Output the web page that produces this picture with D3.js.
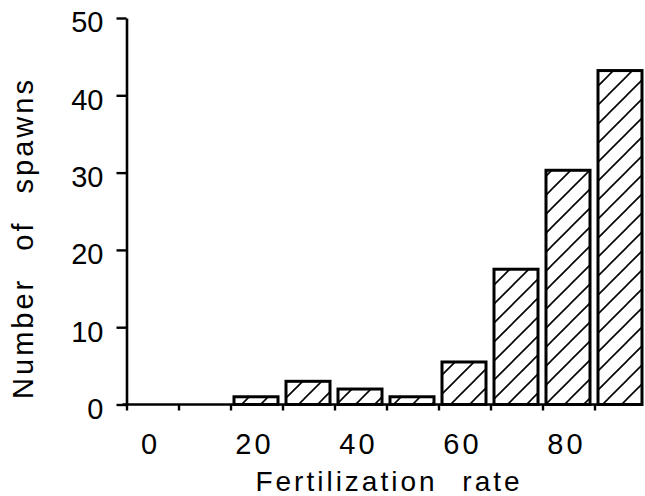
<!DOCTYPE html>
<html>
<head>
<meta charset="utf-8">
<script src="https://cdn.jsdelivr.net/npm/d3@7"></script>
<style>
  html, body { margin: 0; padding: 0; background: #fff; }
  svg { display: block; }
  text { font-family: "Liberation Sans", Arial, Helvetica, sans-serif; fill: #000; }
</style>
</head>
<body>
<svg id="chart" width="645" height="496"></svg>
<script>
// ---- data ----
const binStarts = [0, 10, 20, 30, 40, 50, 60, 70, 80, 90];
const spawnCounts = [0, 0, 1, 3, 2, 1, 5.5, 17.5, 30.3, 43.2];
const xTickLabels = [0, 20, 40, 60, 80];
const yTicks = [0, 10, 20, 30, 40, 50];
const xTitle = "Fertilization rate";
const yTitle = "Number of spawns";

// ---- layout ----
const x0 = 126.5, x1 = 646.5;   // 0 -> 100
const yBottom = 404.5, yTop = 18;

const svg = d3.select("#chart");

const x = d3.scaleLinear().domain([0, 100]).range([x0, x1]);
const y = d3.scaleLinear().domain([0, 50]).range([yBottom, yTop]);

// hatch pattern
const defs = svg.append("defs");
const pat = defs.append("pattern")
  .attr("id", "hatch")
  .attr("patternUnits", "userSpaceOnUse")
  .attr("width", 19).attr("height", 19);
pat.append("rect").attr("width", 19).attr("height", 19).attr("fill", "#fff");
pat.append("path")
  .attr("d", "M-2,2 L2,-2 M0,19 L19,0 M17,21 L21,17")
  .attr("stroke", "#000").attr("stroke-width", 1.6);

// bars
const binW = x(10) - x(0);
const gap = 8;
svg.append("g").selectAll("rect")
  .data(binStarts.map((b, i) => ({ b, v: spawnCounts[i] })).filter(d => d.v > 0))
  .join("rect")
  .attr("x", d => x(d.b) + gap / 2 - 0.5)
  .attr("width", binW - gap)
  .attr("y", d => y(d.v))
  .attr("height", d => y(0) - y(d.v))
  .attr("fill", "url(#hatch)")
  .attr("stroke", "#000")
  .attr("stroke-width", 3);

// y axis
const yAxis = svg.append("g")
  .attr("transform", `translate(${x0},0)`)
  .call(d3.axisLeft(y).tickValues(yTicks).tickSize(10).tickSizeOuter(0).tickPadding(13));
yAxis.select(".domain").attr("stroke", "#000").attr("stroke-width", 2.6);
yAxis.selectAll(".tick line").attr("stroke", "#000").attr("stroke-width", 2.4);
yAxis.selectAll(".tick text")
  .attr("font-size", 29)
  .attr("dy", "0.48em")
  .style("font-family", '"Liberation Sans", Arial, sans-serif');

// x axis (ticks at bin edges)
const xAxis = svg.append("g")
  .attr("transform", `translate(0,${yBottom})`)
  .call(d3.axisBottom(x).tickValues(binStarts).tickSize(6).tickSizeOuter(0).tickFormat(""));
xAxis.select(".domain").remove();
xAxis.selectAll(".tick line").attr("stroke", "#000").attr("stroke-width", 2.4);
xAxis.append("line")
  .attr("x1", x0 - 4).attr("x2", x(100) - 5)
  .attr("y1", 0).attr("y2", 0)
  .attr("stroke", "#000").attr("stroke-width", 2.6);

// x tick labels at bin centers
svg.append("g").selectAll("text")
  .data(xTickLabels)
  .join("text")
  .attr("x", d => x(d + 5) - 2)
  .attr("y", 454)
  .attr("text-anchor", "middle")
  .attr("font-size", 29)
  .attr("letter-spacing", 3)
  .text(d => d);

// titles
svg.append("text")
  .attr("x", 389)
  .attr("y", 491)
  .attr("text-anchor", "middle")
  .attr("font-size", 28)
  .attr("letter-spacing", 3)
  .attr("word-spacing", 14)
  .text(xTitle);

svg.append("text")
  .attr("transform", `translate(33,238) rotate(-90)`)
  .attr("text-anchor", "middle")
  .attr("font-size", 29)
  .attr("letter-spacing", 3)
  .attr("word-spacing", 16)
  .text(yTitle);
</script>
</body>
</html>
